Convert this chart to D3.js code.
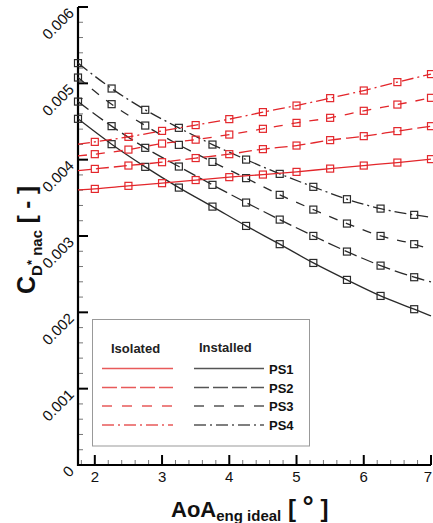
<!DOCTYPE html>
<html><head><meta charset="utf-8">
<script src="https://cdn.jsdelivr.net/npm/d3@7"></script>
<style>body{margin:0;background:#fff}svg{display:block;font-family:"Liberation Sans",Arial,sans-serif}</style>
</head><body><svg id="c" width="433" height="523"></svg>
<script>
// ---- data (values x 1e-3) ----
const isolatedX = [1.75, 2, 2.5, 3, 3.5, 4, 4.5, 5, 5.5, 6, 6.5, 7];
const installedX = [1.75, 2.25, 2.75, 3.25, 3.75, 4.25, 4.75, 5.25, 5.75, 6.25, 6.75, 7];
const isoPS1 = [3.604, 3.617, 3.657, 3.692, 3.733, 3.771, 3.805, 3.840, 3.883, 3.923, 3.962, 4.007];
const isoPS2 = [3.857, 3.879, 3.923, 3.967, 4.021, 4.072, 4.138, 4.185, 4.256, 4.308, 4.374, 4.439];
const isoPS3 = [4.050, 4.072, 4.132, 4.211, 4.262, 4.329, 4.404, 4.482, 4.548, 4.640, 4.722, 4.810];
const isoPS4 = [4.203, 4.233, 4.299, 4.377, 4.453, 4.531, 4.623, 4.709, 4.806, 4.906, 5.016, 5.121];
const insPS1 = [4.535, 4.203, 3.906, 3.634, 3.385, 3.132, 2.893, 2.647, 2.425, 2.215, 2.041, 1.953];
const insPS2 = [4.761, 4.439, 4.155, 3.910, 3.670, 3.438, 3.215, 3.001, 2.796, 2.612, 2.460, 2.398];
const insPS3 = [5.076, 4.727, 4.447, 4.194, 3.971, 3.758, 3.539, 3.346, 3.163, 3.001, 2.893, 2.824];
const insPS4 = [5.265, 4.932, 4.653, 4.417, 4.198, 4.001, 3.814, 3.644, 3.482, 3.359, 3.277, 3.246];
const seriesNames = ["PS1", "PS2", "PS3", "PS4"];
const xTicks = [2, 3, 4, 5, 6, 7];
const yTicks = [0, 0.001, 0.002, 0.003, 0.004, 0.005, 0.006];
const yTickLabels = ["0", "0.001", "0.002", "0.003", "0.004", "0.005", "0.006"];

const svg = d3.select("#c");
const L = 78, R = 431, T = 7, B = 465;
const x = d3.scaleLinear().domain([1.75, 7]).range([L, R]);
const y = d3.scaleLinear().domain([0, 0.006]).range([B, T]);

const RED = "#e3262b", BLK = "#2a2a2a";
const dashes = [null, "13,5", "9,9", "12,4,2,4"];
const legDashes = [null, "15,4", "10,10", "12,4,2,4"];

// minor ticks
const xMinor = d3.range(1.8, 7.0001, 0.2).filter(v => Math.abs(v - Math.round(v)) > 1e-6);
const yMinor = d3.range(0.0002, 0.006, 0.0002).filter(v => Math.abs(v / 0.001 - Math.round(v / 0.001)) > 1e-6);
svg.append("g").selectAll("line").data(xMinor).join("line")
  .attr("x1", d => x(d)).attr("x2", d => x(d)).attr("y1", B).attr("y2", B - 5)
  .attr("stroke", "#777").attr("stroke-width", 1);
svg.append("g").selectAll("line").data(yMinor).join("line")
  .attr("y1", d => y(d)).attr("y2", d => y(d)).attr("x1", L).attr("x2", L + 5)
  .attr("stroke", "#777").attr("stroke-width", 1);
// major ticks
svg.append("g").selectAll("line").data(xTicks).join("line")
  .attr("x1", d => x(d)).attr("x2", d => x(d)).attr("y1", B).attr("y2", B - 10)
  .attr("stroke", "#000").attr("stroke-width", 2);
svg.append("g").selectAll("line").data(yTicks).join("line")
  .attr("y1", d => y(d)).attr("y2", d => y(d)).attr("x1", L).attr("x2", L + 10)
  .attr("stroke", "#000").attr("stroke-width", 2);

// axis lines
svg.append("line").attr("x1", L).attr("x2", L).attr("y1", T).attr("y2", B + 1).attr("stroke", "#000").attr("stroke-width", 2.2);
svg.append("line").attr("x1", L - 1).attr("x2", R).attr("y1", B).attr("y2", B).attr("stroke", "#000").attr("stroke-width", 2.2);

// tick labels
svg.append("g").selectAll("text").data(xTicks).join("text")
  .attr("x", d => Math.min(x(d), 428)).attr("y", B + 17).attr("text-anchor", "middle")
  .attr("font-size", 15).attr("fill", "#111").text(d => d);
svg.append("g").selectAll("text").data(yTicks).join("text")
  .attr("transform", (d, i) => `translate(${L - 3},${y(d) + 7}) rotate(-45)`)
  .attr("text-anchor", "end").attr("font-size", 15).attr("fill", "#111")
  .text((d, i) => yTickLabels[i]);

// series
const line = d3.line().x(d => x(d[0])).y(d => y(d[1] / 1000)).curve(d3.curveMonotoneX);
const iso = [isoPS1, isoPS2, isoPS3, isoPS4];
const ins = [insPS1, insPS2, insPS3, insPS4];
function drawSeries(xs, vals, color, dash, markerFilter) {
  const pts = xs.map((xv, i) => [xv, vals[i]]);
  svg.append("path").attr("d", line(pts)).attr("fill", "none").attr("stroke", color)
    .attr("stroke-width", 1.3).attr("stroke-dasharray", dash);
  svg.append("g").selectAll("rect").data(pts.filter(markerFilter)).join("rect")
    .attr("x", d => x(d[0]) - 3.5).attr("y", d => y(d[1] / 1000) - 3.5)
    .attr("width", 7).attr("height", 7).attr("fill", "none")
    .attr("stroke", color).attr("stroke-width", 1.2);
}
ins.forEach((v, i) => drawSeries(installedX, v, BLK, dashes[i], d => d[0] < 6.9));
iso.forEach((v, i) => drawSeries(isolatedX, v, RED, dashes[i], d => d[0] > 1.9));

// legend
const lg = svg.append("g");
lg.append("rect").attr("x", 92.5).attr("y", 319.5).attr("width", 217).attr("height", 126.5)
  .attr("fill", "#fff").attr("stroke", "#999").attr("stroke-width", 1);
lg.append("text").attr("x", 111).attr("y", 353).attr("font-size", 13).attr("font-weight", "bold").attr("fill", "#222").text("Isolated");
lg.append("text").attr("x", 199).attr("y", 352).attr("font-size", 13).attr("font-weight", "bold").attr("fill", "#222").text("Installed");
const legY = [368.5, 387.5, 406, 425];
seriesNames.forEach((n, i) => {
  lg.append("line").attr("x1", 102).attr("x2", 173).attr("y1", legY[i]).attr("y2", legY[i])
    .attr("stroke", "#e85a5a").attr("stroke-width", 1.5).attr("stroke-dasharray", legDashes[i]);
  lg.append("line").attr("x1", 194).attr("x2", 264).attr("y1", legY[i]).attr("y2", legY[i])
    .attr("stroke", "#555").attr("stroke-width", 1.5).attr("stroke-dasharray", legDashes[i]);
  lg.append("text").attr("x", 269).attr("y", legY[i] + 5).attr("font-size", 13).attr("font-weight", "bold")
    .attr("fill", "#111").text(n);
});

// x title
const xt = svg.append("text").attr("x", 171).attr("y", 517).attr("font-weight", "bold").attr("fill", "#111");
xt.append("tspan").attr("font-size", 22).text("AoA");
xt.append("tspan").attr("font-size", 15).attr("dy", 4).text("eng ideal");
xt.append("tspan").attr("font-size", 24).attr("dy", -4).text(" [ ");
xt.append("tspan").attr("font-size", 28).attr("dy", -1).text("°");
xt.append("tspan").attr("font-size", 24).attr("dy", 1).text(" ]");

// y title
const yt = svg.append("text").attr("transform", "translate(35,294) rotate(-90)").attr("font-weight", "bold").attr("fill", "#111");
yt.append("tspan").attr("font-size", 25).text("C");
yt.append("tspan").attr("font-size", 15).attr("dy", 7).text("D");
yt.append("tspan").attr("font-size", 13).attr("dy", -6).text("*");
yt.append("tspan").attr("font-size", 15).attr("dy", 6).text(" nac");
yt.append("tspan").attr("font-size", 24).attr("dy", -7).text("  [ - ]");
</script></body></html>
